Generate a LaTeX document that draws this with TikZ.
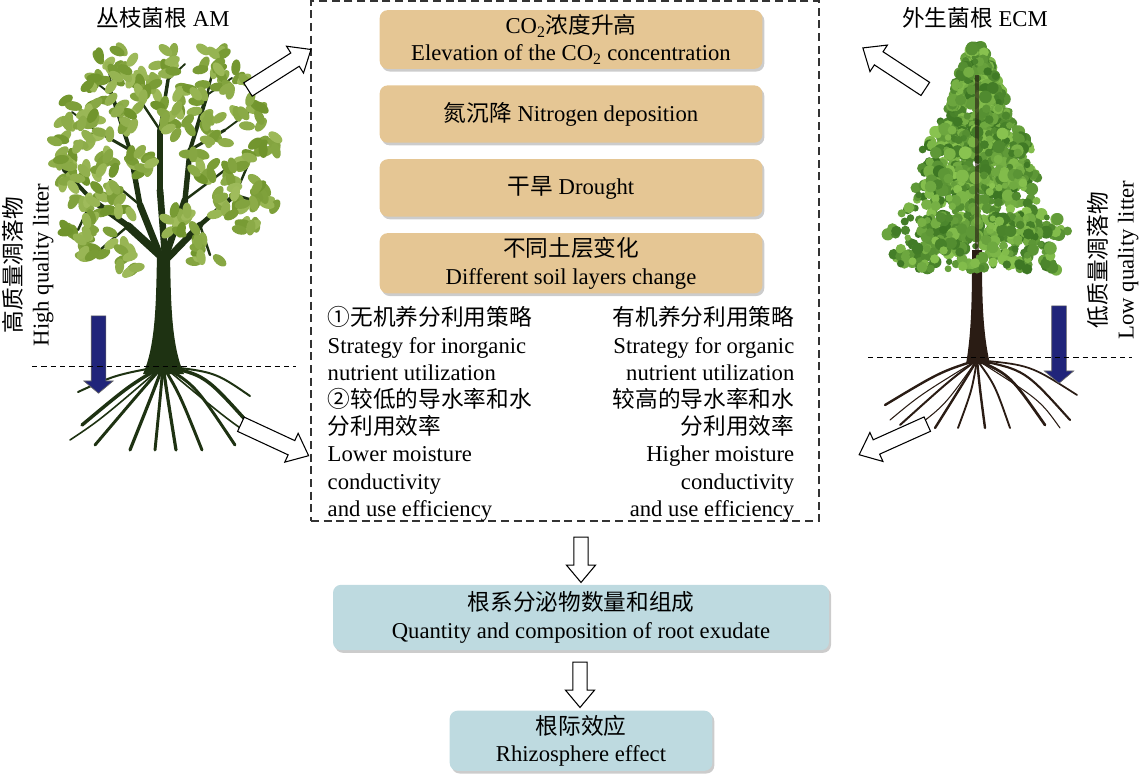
\documentclass[tikz,border=0pt]{standalone}
\usepackage{fontspec}
\setmainfont{Liberation Serif}
\newfontfamily\cjk{Noto Sans CJK SC}
\usepackage{tikz}
\usetikzlibrary{positioning, shapes.arrows, shadows}
\newcommand{\zh}[1]{{\cjk #1}}

\definecolor{factorTan}{RGB}{229,198,148}
\definecolor{effectBlue}{RGB}{190,218,224}
\definecolor{litterNavy}{RGB}{32,36,122}
\definecolor{leafGreen}{RGB}{112,148,44}
\definecolor{leafLight}{RGB}{160,188,92}
\definecolor{amTrunk}{RGB}{30,50,18}
\definecolor{pineLight}{RGB}{138,196,80}
\definecolor{pineDark}{RGB}{58,116,34}
\definecolor{pineTrunk}{RGB}{42,28,20}

\tikzstyle{factor} = [
    rectangle,
    fill = factorTan,
    text centered,
    align = center,
    rounded corners = 6pt,
    minimum width = 287pt,
    minimum height = 43pt,
    drop shadow = {shadow xshift = 1.5pt, shadow yshift = -2pt, fill = black!40}
]
\tikzstyle{effect} = [
    rectangle,
    fill = effectBlue,
    text centered,
    align = center,
    rounded corners = 6pt,
    drop shadow = {shadow xshift = 1.5pt, shadow yshift = -2pt, fill = black!40}
]
\tikzstyle{frame} = [
    rectangle,
    draw = black!80,
    line width = 1pt,
    dash pattern = on 6pt off 3.5pt,
    inner sep = 0pt,
    minimum width = 381pt,
    minimum height = 390pt
]
\tikzstyle{hollow} = [
    single arrow,
    draw,
    fill = white,
    line width = 0.8pt,
    inner xsep = 0pt,
    inner ysep = 5.5pt,
    minimum height = 56pt,
    single arrow head extend = 6pt,
    single arrow tip angle = 80
]
\tikzstyle{litterarrow} = [
    single arrow,
    draw = black!60,
    fill = litterNavy,
    line width = 0.5pt,
    inner xsep = 0pt,
    inner ysep = 5.25pt,
    minimum height = 58pt,
    single arrow head extend = 5.5pt,
    single arrow tip angle = 100,
    rotate = -90
]
\tikzstyle{ground} = [
    line width = 0.6pt,
    dash pattern = on 4pt off 3pt
]

\begin{document}
\begin{tikzpicture}[x = 0.75pt, y = 0.75pt, font = \fontsize{17pt}{20.4pt}\selectfont]

    \useasboundingbox (0,0) rectangle (1141,-774);

    % drivers
    \node [frame] (drivers) at (565,-261) {};
    \node [factor] (co2) at (571,-39.5) {CO\textsubscript{2}\zh{浓度升高}\\Elevation of the CO\textsubscript{2} concentration};
    \node [factor, below = 12pt of co2] (nitrogen) {\zh{氮沉降} Nitrogen deposition};
    \node [factor, below = 12pt of nitrogen] (drought) {\zh{干旱} Drought};
    \node [factor, below = 12pt of drought] (layers) {\zh{不同土层变化}\\Different soil layers change};

    % strategies
    \node [anchor = base west, align = left] (amStrategy) at (323,-516.2) {\zh{①无机养分利用策略}\\Strategy for inorganic\\nutrient utilization\\\zh{②较低的导水率和水}\\\zh{分利用效率}\\Lower moisture\\conductivity\\and use efficiency};
    \node [anchor = base east, align = right] (ecmStrategy) at (799,-516.2) {\zh{有机养分利用策略}\\Strategy for organic\\nutrient utilization\\\zh{较高的导水率和水}\\\zh{分利用效率}\\Higher moisture\hspace{4pt}\\conductivity\\and use efficiency};

    % effects
    \node [effect, minimum width = 372pt, minimum height = 49pt] (exudate) at (581,-617.5) {\zh{根系分泌物数量和组成}\\Quantity and composition of root exudate};
    \node [effect, minimum width = 197pt, minimum height = 43.5pt, below = 45pt of exudate] (rhizo) {\zh{根际效应}\\Rhizosphere effect};

    \node [hollow, rotate = -90, inner ysep = 5pt, minimum height = 34pt, single arrow head extend = 5.5pt] (toExudate) at (581,-555.5) {};
    \node [hollow, rotate = -90, inner ysep = 5pt, minimum height = 34pt, single arrow head extend = 5.5pt] (toRhizo) at (580,-680.5) {};

    % AM tree
    \node (amLabel) at (163,-18) {\zh{丛枝菌根} AM};
    \node [rotate = 90, align = center] (amLitter) at (28,-265) {\zh{高质量凋落物}\\High quality litter};
    \foreach \cx/\cy/\ex/\ey/\w in {
        130/385/82/425/2.6, 140/392/95/445/2.2, 150/400/130/450/2.4, 160/400/155/450/2.2,
        168/400/176/450/2.4, 180/395/202/450/2.2, 195/385/235/445/2.2, 205/375/250/425/2.6,
        115/375/78/392/1.5, 215/372/250/396/1.5, 100/420/70/440/1.2, 228/420/258/440/1.2}
        \draw [amTrunk, line width = \w pt, line cap = round] (163,-366) .. controls (\cx,-\cy) .. (\ex,-\ey);
    \fill [amTrunk] (143,-374) .. controls (156,-345) and (156,-300) .. (157,-256) -- (170,-256) .. controls (171,-300) and (171,-345) .. (184,-374) -- cycle;
    \foreach \ax/\ay/\bx/\by/\w in {
        163/258/128/226/6, 128/226/92/200/4.5, 92/200/64/170/3,
        160/255/140/205/5, 140/205/130/150/4, 130/150/112/95/3, 112/95/108/60/1.8,
        165/255/160/190/5, 160/190/160/130/4, 160/130/168/80/2.6, 168/80/165/64/1.6,
        166/255/185/200/5, 185/200/190/150/4, 190/150/207/95/3, 207/95/215/62/1.8,
        168/258/200/225/5, 200/225/235/195/3.5, 235/195/268/205/2.2,
        92/200/78/230/1.8, 128/226/100/250/1.8, 130/150/95/130/2.2, 95/130/72/112/1.4,
        140/205/110/180/1.8, 160/130/140/100/1.8, 190/150/225/130/2.2, 225/130/252/110/1.4,
        200/225/210/255/1.8, 235/195/250/160/1.8, 185/200/225/170/1.8, 112/95/90/78/1.4,
        207/95/232/78/1.4, 168/80/185/64/1.4, 64/170/60/152/1.4}
        \draw [amTrunk, line width = \w pt, line cap = round] (\ax,-\ay) -- (\bx,-\by);
    \pgfmathsetseed{12}
    \foreach \cx/\cy in {
        108/64, 128/74, 165/64, 213/64, 232/78, 100/92, 150/92, 190/97, 250/112, 74/112,
        95/130, 130/120, 175/120, 220/130, 262/140, 68/150, 100/165, 145/165, 200/165, 240/170,
        268/198, 70/174, 88/200, 120/200, 225/200, 97/245, 122/258, 205/255, 242/218, 180/222, 80/226}
        \foreach \k in {1,...,11} {
            \pgfmathsetmacro\leafX{\cx+15*rand}
            \pgfmathsetmacro\leafY{-\cy+15*rand}
            \pgfmathsetmacro\leafA{360*rnd}
            \pgfmathsetmacro\leafS{100*rnd}
            \fill [leafGreen!\leafS!leafLight, rotate around = {\leafA:(\leafX,\leafY)}] (\leafX,\leafY) ellipse [x radius = 4.5, y radius = 8];
        }
    \node [litterarrow] (amDown) at (98.5,-351.5) {};
    \draw [ground] (32,-366.7) -- (296,-366.7);
    \node [hollow, rotate = 32.4] (amUp) at (275.5,-72) {};
    \node [hollow, rotate = -24.9] (amIn) at (270.5,-438) {};

    % ECM tree
    \node (ecmLabel) at (975,-18) {\zh{外生菌根} ECM};
    \node [rotate = 90, align = center] (ecmLitter) at (1113,-260) {\zh{低质量凋落物}\\Low quality litter};
    \foreach \cx/\cy/\ex/\ey/\w in {
        940/372/885/405/1.8, 950/380/900/425/1.5, 962/385/935/428/1.8, 972/390/958/428/1.4,
        980/390/985/428/1.8, 995/385/1010/428/1.4, 1010/375/1045/425/2, 1025/370/1070/420/1.6,
        1030/365/1077/395/1.3, 920/395/890/420/0.8, 1040/400/1060/428/0.8, 945/405/915/428/0.8}
        \draw [pineTrunk, line width = \w pt, line cap = round] (977,-360) .. controls (\cx,-\cy) .. (\ex,-\ey);
    \fill [pineTrunk] (966,-364) .. controls (972,-330) and (972,-290) .. (972,-250) -- (982,-250) .. controls (982,-290) and (982,-330) .. (990,-364) -- cycle;
    \pgfmathsetseed{5}
    \foreach \ya/\yb/\ha/\hb in {46/100/5/30, 85/150/18/55, 130/190/25/72, 170/235/40/97, 215/270/50/97}
        \foreach \k in {1,...,260} {
            \pgfmathsetmacro\pineS{rnd}
            \pgfmathsetmacro\pineY{\ya+\pineS*(\yb-\ya)}
            \pgfmathsetmacro\pineW{\ha+\pineS*(\hb-\ha)}
            \pgfmathsetmacro\pineX{977+\pineW*rand}
            \pgfmathsetmacro\pineR{3+3.5*rnd}
            \pgfmathsetmacro\pineC{100*rnd}
            \fill [pineLight!\pineC!pineDark] (\pineX,-\pineY) circle (\pineR);
        }
    \draw [pineTrunk, line width = 2.5pt, opacity = 0.6] (977,-255) -- (977,-75);
    \node [litterarrow] (ecmDown) at (1059,-341.5) {};
    \draw [ground] (868,-357) -- (1132,-357);
    \node [hollow, rotate = 146.7] (ecmUp) at (898,-71) {};
    \node [hollow, rotate = 204.2] (ecmIn) at (897.5,-437.5) {};

\end{tikzpicture}
\end{document}
